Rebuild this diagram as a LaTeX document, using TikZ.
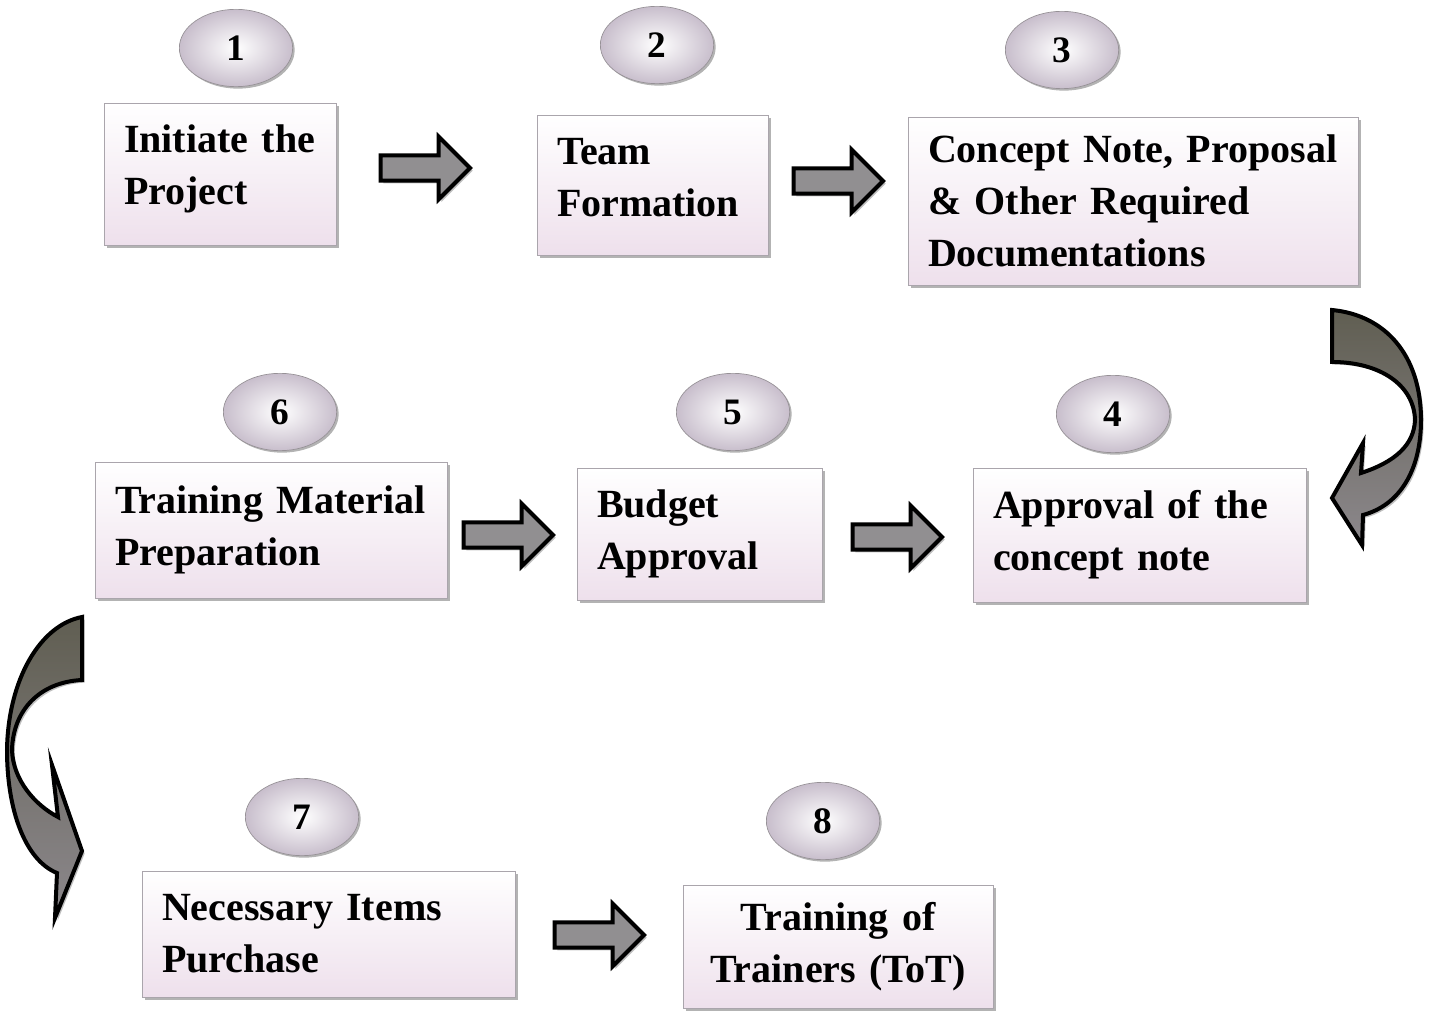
\documentclass[tikz,border=0pt]{standalone}
\usepackage{fontspec}
\setmainfont{Liberation Serif}
\usetikzlibrary{shapes.geometric}
\usetikzlibrary{shapes.arrows}
\usetikzlibrary{shadows}

\tikzset{
  stepbox/.style={draw={rgb,255:red,170;green,165;blue,172}, line width=0.6pt,
    top color=white, bottom color={rgb,255:red,238;green,224;blue,236},
    drop shadow={shadow xshift=2pt, shadow yshift=-2pt, fill=gray, opacity=0.6},
    inner xsep=15pt, inner ysep=0pt, align=left,
    font=\fontsize{30}{39}\selectfont\bfseries},
  numball/.style={ellipse, draw={rgb,255:red,150;green,145;blue,150}, line width=0.5pt,
    minimum width=85pt, minimum height=58pt, inner sep=0pt,
    inner color=white, outer color={rgb,255:red,200;green,190;blue,204},
    drop shadow={shadow xshift=1.5pt, shadow yshift=-1.5pt, fill=gray, opacity=0.6},
    font=\fontsize{28}{30}\selectfont\bfseries},
  blockarrow/.style={single arrow, draw=black, line width=3pt, fill={rgb,255:red,145;green,143;blue,145},
    minimum height=67pt, minimum width=47pt, single arrow head extend=14pt,
    inner xsep=0pt, inner ysep=8pt,
    drop shadow={shadow xshift=2pt, shadow yshift=-2pt, fill=gray, opacity=0.5}},
  bendarrow/.style={draw=black, line width=3pt, line join=miter,
    top color={rgb,255:red,96;green,94;blue,82}, bottom color={rgb,255:red,140;green,136;blue,140},
    drop shadow={shadow xshift=2pt, shadow yshift=-2pt, fill=gray, opacity=0.5}}
}

\begin{document}
\begin{tikzpicture}[x=0.75pt,y=0.75pt,yscale=-1,xscale=1]
\useasboundingbox (0,0) rectangle (1438,1012);

% Boxes
\node[stepbox, minimum width=174pt, minimum height=106.5pt, text width=144pt, text depth=53pt] (b1) at (220,174) {Initiate the\\Project};
\node[stepbox, minimum width=173.25pt, minimum height=105pt, text width=143.25pt, text depth=50pt] (b2) at (652.5,185) {Team\\Formation};
\node[stepbox, minimum width=337.5pt, minimum height=126pt, text width=307.5pt] (b3) at (1133,201) {Concept Note, Proposal\\\& Other Required\\Documentations};
\node[stepbox, minimum width=249.75pt, minimum height=100.5pt, text width=219.75pt] (b4) at (1139.5,535) {Approval of the\\concept note};
\node[stepbox, minimum width=183.75pt, minimum height=99pt, text width=153.75pt] (b5) at (699.5,534) {Budget\\Approval};
\node[stepbox, minimum width=264pt, minimum height=102pt, text width=234pt] (b6) at (271,530) {Training Material\\Preparation};
\node[stepbox, minimum width=279.75pt, minimum height=94.5pt, text width=249.75pt] (b7) at (328.5,934) {Necessary Items\\Purchase};
\node[stepbox, minimum width=232.5pt, minimum height=92.25pt, text width=202.5pt, align=center] (b8) at (838,946.5) {Training of\\Trainers (ToT)};

% Numbers
\node[numball] (n1) at (236,48) {1};
\node[numball] (n2) at (657,45) {2};
\node[numball] (n3) at (1062,50) {3};
\node[numball] (n4) at (1113,414) {4};
\node[numball] (n5) at (733,412) {5};
\node[numball] (n6) at (280,412) {6};
\node[numball] (n7) at (302,817) {7};
\node[numball] (n8) at (823,821) {8};

% Block arrows
\node[blockarrow] (a12) at (419,168) {};
\node[blockarrow] (a23) at (832,181) {};
\node[blockarrow] (a65) at (502,535) {};
\node[blockarrow] (a54) at (891,537) {};
\node[blockarrow] (a78) at (593,935) {};

%Shape: Curved arrow right side
\path[bendarrow] (1332,310) .. controls (1385,315) and (1421,355) .. (1421,420)
  .. controls (1421,470) and (1400,505) .. (1363,515) -- (1362,545) -- (1332,498)
  -- (1363,443) -- (1361,473) .. controls (1395,462) and (1414,445) .. (1415,420)
  .. controls (1414,385) and (1380,362) .. (1332,362) -- cycle;
%Shape: Curved arrow left side
\path[bendarrow] (82,617) .. controls (40,625) and (8,680) .. (7,750)
  .. controls (7,810) and (25,860) .. (57,873) -- (55,918) -- (82,851)
  -- (52,765) -- (58,817) .. controls (35,805) and (13,780) .. (12,750)
  .. controls (13,710) and (40,682) .. (82,680) -- cycle;

\end{tikzpicture}
\end{document}
